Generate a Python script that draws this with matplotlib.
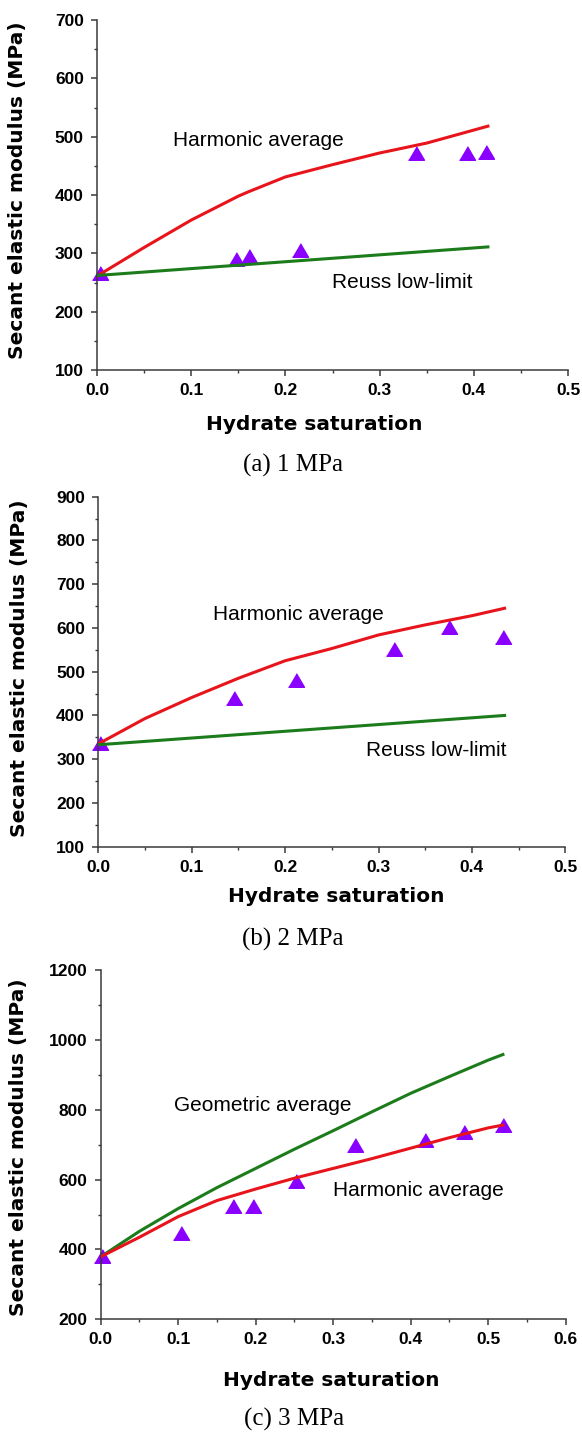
import matplotlib.pyplot as plt
from matplotlib.ticker import MultipleLocator, FormatStrFormatter

# (a) 1 MPa
sat_a_model = [0, 0.05, 0.1, 0.15, 0.16, 0.2, 0.25, 0.3, 0.35, 0.415]
harm_a = [261, 310, 357, 398, 405, 431, 452, 472, 489, 518]
reuss_a_x = [0, 0.415]
reuss_a = [262, 311]
sat_a = [0.003, 0.148, 0.161, 0.215, 0.339, 0.393, 0.413]
mod_a = [266, 290, 296, 305, 472, 472, 473]

# (b) 2 MPa
sat_b_model = [0, 0.05, 0.1, 0.15, 0.2, 0.25, 0.3, 0.35, 0.4, 0.435]
harm_b = [335, 393, 441, 485, 525, 553, 584, 607, 628, 645]
reuss_b_x = [0, 0.435]
reuss_b = [333, 400]
sat_b = [0.002, 0.145, 0.212, 0.317, 0.376, 0.433]
mod_b = [337, 439, 481, 553, 603, 580]

# (c) 3 MPa
sat_c_model = [0, 0.05, 0.1, 0.15, 0.2, 0.25, 0.3, 0.35, 0.4, 0.45, 0.5, 0.519]
harm_c = [379, 435, 494, 540, 573, 604, 632, 660, 690, 720, 748, 756]
geom_c = [379, 452, 517, 577, 632, 687, 740, 794, 847, 895, 942, 958]
sat_c = [0.002, 0.104, 0.171, 0.197, 0.252, 0.328, 0.419, 0.469, 0.519]
mod_c = [381, 448, 524, 525, 597, 699, 713, 737, 756]

RED = '#e8141b'
GREEN = '#1c7c1c'
PURPLE = '#8a00ff'
W, H = 582, 1433
tri = [(-1, -0.85), (1, -0.85), (0, 0.85)]

fig = plt.figure(figsize=(W / 100, H / 100), dpi=100)


def px(x, y):
    return x / W, 1 - y / H


def setup(ax, xmax, ymin, ymax, ymajor):
    ax.set_xlim(0, xmax)
    ax.set_ylim(ymin, ymax)
    ax.xaxis.set_major_locator(MultipleLocator(0.1))
    ax.xaxis.set_minor_locator(MultipleLocator(0.05))
    ax.yaxis.set_major_locator(MultipleLocator(ymajor))
    ax.yaxis.set_minor_locator(MultipleLocator(ymajor / 2))
    ax.xaxis.set_major_formatter(FormatStrFormatter('%.1f'))
    for s in ['top', 'right']:
        ax.spines[s].set_visible(False)
    for s in ['left', 'bottom']:
        ax.spines[s].set_color('#3a3a3a')
        ax.spines[s].set_linewidth(1.1)
    ax.tick_params(which='major', direction='out', length=4.5, width=1.1, color='#3a3a3a', pad=5)
    ax.tick_params(which='minor', direction='out', length=2.5, width=1.0, color='#3a3a3a')
    for lab in ax.get_xticklabels() + ax.get_yticklabels():
        lab.set_fontfamily('Liberation Sans')
        lab.set_fontweight('bold')
        lab.set_fontsize(12.5)


def labels(xl, yl, cap, cap_text):
    fig.text(*px(*xl), 'Hydrate saturation', ha='center', va='center',
             fontsize=14.5, fontweight='bold', family='DejaVu Sans')
    fig.text(*px(*yl), 'Secant elastic modulus (MPa)', ha='center', va='center',
             rotation=90, fontsize=14.5, fontweight='bold', family='DejaVu Sans')
    fig.text(*px(*cap), cap_text, ha='center', va='center',
             fontsize=18, family='Liberation Serif')


note = dict(ha='left', va='center', fontsize=15, family='Liberation Sans')
pts = dict(marker=tri, ms=11.5, color=PURPLE, ls='none', clip_on=False, zorder=2)

# panel (a)
ax1 = fig.add_axes([97 / W, 1 - 370 / H, 471 / W, 350 / H])
setup(ax1, 0.5, 100, 700, 100)
ax1.plot(sat_a, mod_a, **pts)
ax1.plot(sat_a_model, harm_a, color=RED, lw=2.2, zorder=3)
ax1.plot(reuss_a_x, reuss_a, color=GREEN, lw=2.2, zorder=3)
ax1.text(0.081, 494, 'Harmonic average', **note)
ax1.text(0.25, 250, 'Reuss low-limit', **note)

# panel (b)
ax2 = fig.add_axes([98.3 / W, 1 - 846.7 / H, 467 / W, 350 / H])
setup(ax2, 0.5, 100, 900, 100)
ax2.plot(sat_b, mod_b, **pts)
ax2.plot(sat_b_model, harm_b, color=RED, lw=2.2, zorder=3)
ax2.plot(reuss_b_x, reuss_b, color=GREEN, lw=2.2, zorder=3)
ax2.text(0.123, 630, 'Harmonic average', **note)
ax2.text(0.287, 321, 'Reuss low-limit', **note)

# panel (c)
ax3 = fig.add_axes([100.7 / W, 1 - 1319.3 / H, 465 / W, 349.3 / H])
setup(ax3, 0.6, 200, 1200, 200)
ax3.plot(sat_c, mod_c, **pts)
ax3.plot(sat_c_model, geom_c, color=GREEN, lw=2.2, zorder=3)
ax3.plot(sat_c_model, harm_c, color=RED, lw=2.2, zorder=3)
ax3.text(0.094, 813, 'Geometric average', **note)
ax3.text(0.300, 570, 'Harmonic average', **note)

labels((314, 424), (18, 190), (293, 465), '(a) 1 MPa')
labels((336, 897), (20, 668), (293, 939), '(b) 2 MPa')
labels((331, 1380), (19, 1147), (294, 1419), '(c) 3 MPa')

fig.savefig('out.png', dpi=100)
